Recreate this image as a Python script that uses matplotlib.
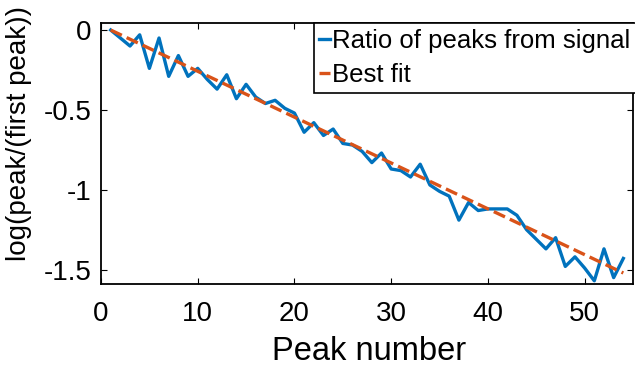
import numpy as np
import matplotlib.pyplot as plt

plt.rcParams['font.family'] = ['Liberation Sans', 'DejaVu Sans']
plt.rcParams['axes.unicode_minus'] = False

# Datos
peak_number = np.arange(1, 55)
log_ratio = [0.00, -0.05, -0.10, -0.03, -0.24, -0.05, -0.29, -0.16, -0.29, -0.24,
             -0.31, -0.37, -0.28, -0.43, -0.34, -0.42, -0.46, -0.44, -0.49, -0.52,
             -0.64, -0.58, -0.66, -0.62, -0.71, -0.72, -0.76, -0.83, -0.77, -0.87,
             -0.88, -0.92, -0.84, -0.97, -1.01, -1.04, -1.19, -1.08, -1.13, -1.12,
             -1.12, -1.12, -1.16, -1.25, -1.31, -1.37, -1.30, -1.48, -1.42, -1.49,
             -1.57, -1.37, -1.55, -1.43]
fit_slope = -0.0287
fit_intercept = 0.0287
best_fit = fit_intercept + fit_slope * peak_number

xticks = [0, 10, 20, 30, 40, 50]
yticks = [0, -0.5, -1, -1.5]
ytick_labels = ['0', '-0.5', '-1', '-1.5']

fig = plt.figure(figsize=(6.35, 3.71), dpi=100)
ax = fig.add_axes([101 / 635, 1 - 284 / 371, (633 - 101) / 635, (284 - 23) / 371])

ax.plot(peak_number, log_ratio, color=(0, 0.447, 0.741), lw=2.4,
        label='Ratio of peaks from signal')
ax.plot(peak_number, best_fit, color=(0.85, 0.325, 0.098), lw=2.4, ls='--',
        label='Best fit')

ax.set_xlim(0, 55)
ax.set_ylim(-1.59, 0.044)
ax.set_xticks(xticks)
ax.set_yticks(yticks)
ax.set_yticklabels(ytick_labels)
ax.tick_params(direction='in', top=True, right=True, labelsize=20, length=4)
ax.tick_params(axis='x', pad=12)
ax.tick_params(axis='y', pad=7)
for s in ax.spines.values():
    s.set_linewidth(1.3)

ax.set_xlabel('Peak number', fontsize=23.5, va='center')
ax.xaxis.set_label_coords(0.503, -0.26)
ax.set_ylabel('log(peak/(first peak))', fontsize=20, va='center')
ax.yaxis.set_label_coords(-0.154, 0.577)

leg = ax.legend(loc='upper left', bbox_to_anchor=(0.40, 1.0), borderaxespad=0,
                fontsize=18.5, handlelength=0.4, handletextpad=0.1, borderpad=0.22,
                labelspacing=0.42, fancybox=False, framealpha=1, edgecolor='black')
leg.get_frame().set_linewidth(1.2)

plt.savefig('out.png', dpi=100)
